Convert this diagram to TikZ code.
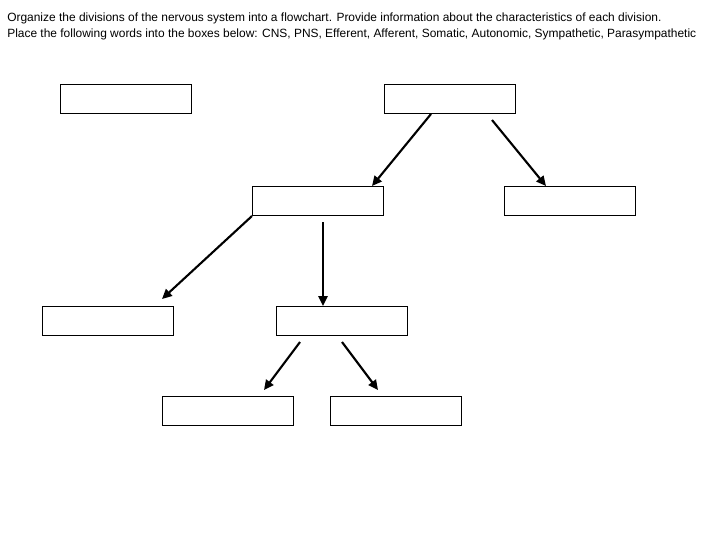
\documentclass[tikz,border=0pt]{standalone}
\usepackage{fontspec}
\setmainfont{Liberation Sans}
\usetikzlibrary{arrows.meta,positioning}

\begin{document}
\begin{tikzpicture}[x=0.025cm,y=-0.025cm,
  blank/.style={draw,line width=0.7pt,minimum width=3.28cm,minimum height=0.73cm,inner sep=0pt},
  link/.style={-{Triangle[length=7pt,width=6.5pt]},line width=1.5pt}]
\useasboundingbox (0,0) rectangle (720,540);
\node[anchor=north west,align=left,inner sep=0pt,font=\fontsize{8.5}{11.4}\selectfont] (task) at (7,13)
 {Organize the divisions of the nervous system into a flowchart. Provide information about the characteristics of each division.\\
  Place the following words into the boxes below: CNS, PNS, Efferent, Afferent, Somatic, Autonomic, Sympathetic, Parasympathetic};
\node[blank] (cns) at (126,99) {};
\node[blank] (pns) at (450,99) {};
\node[blank] (eff) at (318,201) {};
\node[blank] (aff) at (570,201) {};
\node[blank] (som) at (108,321) {};
\node[blank] (aut) at (342,321) {};
\node[blank] (sym) at (228,411) {};
\node[blank] (par) at (396,411) {};
% free ends of the arrows
\coordinate (pns-a) at (431,114); \coordinate (eff-t) at (372,186);
\coordinate (pns-b) at (492,120); \coordinate (aff-t) at (546,186);
\coordinate (eff-a) at (252,216); \coordinate (som-t) at (162,299);
\coordinate (eff-b) at (323,222); \coordinate (aut-t) at (323,306);
\coordinate (aut-a) at (300,342); \coordinate (sym-t) at (264,390);
\coordinate (aut-b) at (342,342); \coordinate (par-t) at (378,390);
\draw[link] (pns-a) -- (eff-t);
\draw[link] (pns-b) -- (aff-t);
\draw[link] (eff-a) -- (som-t);
\draw[link] (eff-b) -- (aut-t);
\draw[link] (aut-a) -- (sym-t);
\draw[link] (aut-b) -- (par-t);
\end{tikzpicture}
\end{document}
